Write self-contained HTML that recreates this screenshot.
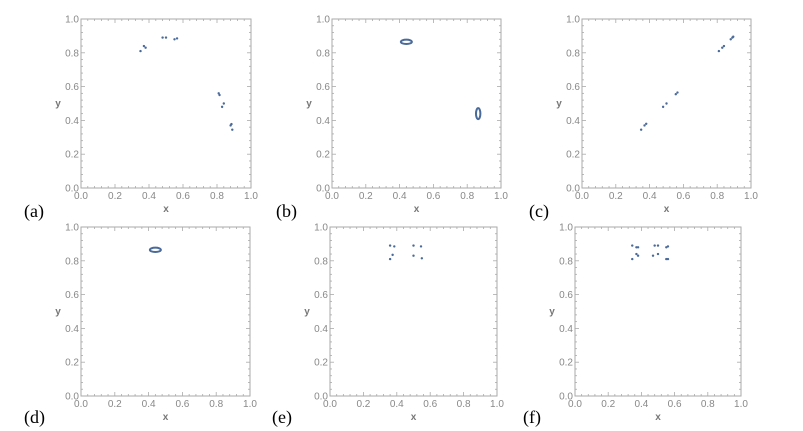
<!DOCTYPE html>
<html><head><meta charset="utf-8"><style>
html,body{margin:0;padding:0;background:#fff;width:803px;height:431px;overflow:hidden}
svg{display:block}
svg text{font-family:"Liberation Sans",Arial,sans-serif}
svg text.lab{font-family:"Liberation Serif","Times New Roman",serif}
</style></head><body>
<svg id="s" width="803" height="431" xmlns="http://www.w3.org/2000/svg"></svg>
<script>
var panels=[
 {x:81,y:19,w:170,h:169,lab:"(a)",lx:24,ly:217,pts:[[.35,.81],[.37,.84],[.38,.83],[.48,.89],[.50,.89],[.55,.88],[.565,.885],[.81,.56],[.815,.55],[.83,.48],[.84,.50],[.88,.37],[.885,.378],[.89,.345]]},
 {x:332,y:19,w:169,h:169,lab:"(b)",lx:276,ly:217,ell:[[.44,.865,5.5,2.2],[.865,.44,2.2,5.5]]},
 {x:582,y:19,w:169,h:169,lab:"(c)",lx:529,ly:217,pts:[[.35,.345],[.37,.37],[.38,.38],[.48,.48],[.50,.50],[.555,.555],[.565,.565],[.81,.81],[.83,.83],[.84,.84],[.88,.88],[.89,.89],[.895,.895]]},
 {x:81,y:227,w:169,h:169,lab:"(d)",lx:24,ly:423,ell:[[.44,.865,5.5,2.2]]},
 {x:330,y:227,w:167,h:169,lab:"(e)",lx:272,ly:423,pts:[[.36,.89],[.385,.885],[.36,.81],[.375,.835],[.50,.89],[.545,.885],[.50,.83],[.55,.815]]},
 {x:575,y:227,w:166,h:169,lab:"(f)",lx:523,ly:423,pts:[[.345,.89],[.37,.88],[.38,.88],[.345,.81],[.37,.84],[.38,.83],[.48,.89],[.50,.89],[.47,.83],[.50,.84],[.55,.88],[.56,.885],[.55,.81],[.56,.81]]}
];
var out="";
panels.forEach(function(p){
 var g='<g transform="translate('+p.x+','+p.y+')">';
 g+='<rect x="0" y="0" width="'+p.w+'" height="'+p.h+'" fill="none" stroke="#aaa" stroke-width="1"/>';
 for(var i=0;i<=25;i++){
  var f=i/25, L=(i%5==0)?4:2;
  var X=f*p.w, Y=p.h-f*p.h;
  g+='<line x1="'+X+'" y1="'+p.h+'" x2="'+X+'" y2="'+(p.h-L)+'" stroke="#aaa" stroke-width="0.8"/>';
  g+='<line x1="'+X+'" y1="0" x2="'+X+'" y2="'+L+'" stroke="#aaa" stroke-width="0.8"/>';
  g+='<line x1="0" y1="'+Y+'" x2="'+L+'" y2="'+Y+'" stroke="#aaa" stroke-width="0.8"/>';
  g+='<line x1="'+p.w+'" y1="'+Y+'" x2="'+(p.w-L)+'" y2="'+Y+'" stroke="#aaa" stroke-width="0.8"/>';
 }
 for(var j=0;j<=5;j++){
  var t=(j/5).toFixed(1);
  g+='<text x="'+(j/5*p.w)+'" y="'+(p.h+11)+'" font-size="10" fill="#888" text-anchor="middle">'+t+'</text>';
  g+='<text x="-2" y="'+(p.h-j/5*p.h+3.5)+'" font-size="10" fill="#888" text-anchor="end">'+t+'</text>';
 }
 g+='<text x="'+(p.w/2)+'" y="'+(p.h+24)+'" font-size="10" font-weight="bold" fill="#777" text-anchor="middle">x</text>';
 g+='<text x="-23" y="'+(p.h/2+3)+'" font-size="10" font-weight="bold" fill="#777" text-anchor="middle">y</text>';
 (p.pts||[]).forEach(function(q){
  g+='<circle cx="'+(q[0]*p.w)+'" cy="'+(p.h*(1-q[1]))+'" r="1.2" fill="#4a6a9a"/>';
 });
 (p.ell||[]).forEach(function(e){
  g+='<ellipse cx="'+(e[0]*p.w)+'" cy="'+(p.h*(1-e[1]))+'" rx="'+e[2]+'" ry="'+e[3]+'" fill="none" stroke="#4a6a9a" stroke-width="2"/>';
 });
 g+='</g>';
 g+='<text class="lab" x="'+p.lx+'" y="'+p.ly+'" font-size="18" fill="#000">'+p.lab+'</text>';
 out+=g;
});
document.getElementById("s").innerHTML=out;
</script>
</body></html>
